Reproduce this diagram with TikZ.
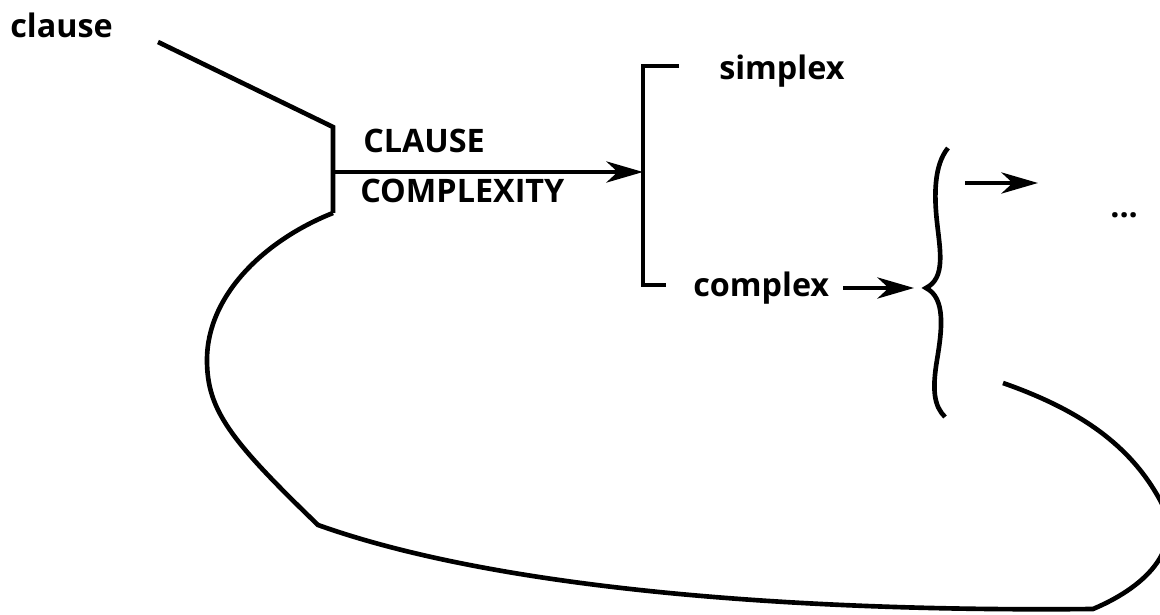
\documentclass[tikz,border=0pt]{standalone}
\usepackage{fontspec}
\setmainfont{Open Sans}
\usetikzlibrary{arrows.meta,positioning}
\tikzset{
  lbl/.style={font=\bfseries\fontsize{23}{26}\selectfont,inner sep=0pt,anchor=base west},
  ln/.style={line width=3.3pt,line join=miter},
  arr/.style={ln,-{Stealth[length=26pt,width=15pt,inset=8pt]}}
}
\begin{document}
\begin{tikzpicture}[x=0.025cm,y=-0.025cm]
  \clip (0,0) rectangle (1160,615);
  \node[lbl] (clause)  at (10,38)   {clause};
  \node[lbl] (name1)   at (363,153) {CLAUSE};
  \node[lbl] (name2)   at (360,203) {COMPLEXITY};
  \node[lbl] (simplex) at (719,80)  {simplex};
  \node[lbl] (complex) at (693,297) {complex};
  \node[lbl] (more)    at (1110,218) {...};

  \coordinate (c0) at (158,42);
  \coordinate (c1) at (333,127);
  \coordinate (c2) at (333,213);
  \coordinate (c3) at (333,172);
  \coordinate (b0) at (643,172);
  \coordinate (b1) at (643,66);
  \coordinate (b2) at (643,285);
  \coordinate (b3) at (679,66);
  \coordinate (b4) at (666,285);
  \coordinate (br) at (926,288);
  \coordinate (a0) at (843,288);
  \coordinate (a1) at (914,288);
  \coordinate (r0) at (965,183);
  \coordinate (r1) at (1038,183);
  \coordinate (l0) at (1003,383);
  \coordinate (l1) at (1093,609);
  \coordinate (l2) at (318,525);

% entry and system
  \draw[ln] (c0) -- (c1) -- (c2);
  \draw[arr] (c3) -- (b0);
  \draw[ln] (b3) -- (b1) -- (b2) -- (b4);
  \draw[arr] (a0) -- (a1);

% brace
  \draw[ln] (948,148) .. controls (934,165) and (934,195) .. (937,222)
     .. controls (940,250) and (946,278) .. (br)
     .. controls (946,298) and (942,330) .. (937,360)
     .. controls (932,390) and (934,406) .. (945,417);
  \draw[arr] (r0) -- (r1);

% recursion loop
  \draw[ln] (c2) .. controls (265,240) and (207,295) .. (207,360)
     .. controls (207,410) and (230,440) .. (l2)
     .. controls (500,590) and (800,612) .. (l1)
     .. controls (1150,585) and (1185,545) .. (1160,500)
     .. controls (1130,445) and (1080,410) .. (l0);
\end{tikzpicture}
\end{document}
